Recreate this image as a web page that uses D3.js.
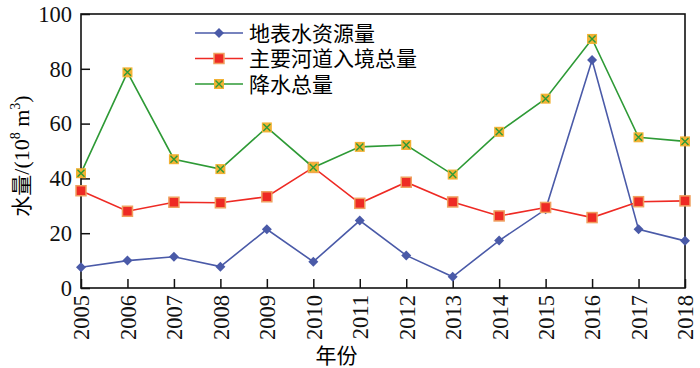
<!DOCTYPE html>
<html>
<head>
<meta charset="utf-8">
<script src="https://cdn.jsdelivr.net/npm/d3@7"></script>
<style>
  body { margin: 0; background: #fff; }
  svg { display: block; }
</style>
</head>
<body>
<div id="chart"></div>
<script>
// data
const years = [2005, 2006, 2007, 2008, 2009, 2010, 2011, 2012, 2013, 2014, 2015, 2016, 2017, 2018];
const surfaceWater = [7.6, 10.0, 11.4, 7.8, 21.4, 9.6, 24.6, 11.9, 4.1, 17.3, 28.7, 83.2, 21.4, 17.2];
const inflow = [35.5, 28.0, 31.3, 31.1, 33.3, 44.0, 30.9, 38.6, 31.4, 26.3, 29.4, 25.7, 31.5, 31.8];
const rainfall = [41.9, 78.7, 47.0, 43.4, 58.6, 44.0, 51.5, 52.2, 41.4, 57.0, 69.1, 90.9, 55.0, 53.5];
const seriesNames = ["地表水资源量", "主要河道入境总量", "降水总量"];
const yTicks = [0, 20, 40, 60, 80, 100];

const w = 700, h = 368;
const m = {left: 81, right: 15, top: 14, bottom: 80};

const svg = d3.select("#chart").append("svg")
  .attr("width", w).attr("height", h);

const x = d3.scaleLinear().domain([2005, 2018]).range([m.left, w - m.right]);
const y = d3.scaleLinear().domain([0, 100]).range([h - m.bottom, m.top]);

const serif = "'Liberation Serif', 'Times New Roman', serif";
const cjk = "'Noto Sans CJK SC', sans-serif";

// axes with inward ticks
const xAxis = svg.append("g")
  .attr("transform", `translate(0,${h - m.bottom})`)
  .call(d3.axisBottom(x).tickValues(years).tickFormat(d3.format("d")).tickSizeInner(-9).tickSizeOuter(0));
xAxis.selectAll("text")
  .attr("transform", "rotate(-90)")
  .attr("x", -7).attr("y", 0).attr("dy", "0.35em")
  .style("text-anchor", "end")
  .style("font-family", serif).style("font-size", "22.5px").attr("fill", "#111");

const yAxis = svg.append("g")
  .attr("transform", `translate(${m.left},0)`)
  .call(d3.axisLeft(y).tickValues(yTicks).tickSizeInner(-9).tickSizeOuter(0).tickPadding(9));
yAxis.selectAll("text")
  .style("font-family", serif).style("font-size", "22.5px").attr("fill", "#111");

svg.selectAll(".domain").remove();
svg.selectAll(".tick line").attr("stroke", "#111").attr("stroke-width", 1.5);

// frame
svg.append("rect")
  .attr("x", m.left).attr("y", m.top)
  .attr("width", w - m.right - m.left).attr("height", h - m.bottom - m.top)
  .attr("fill", "none").attr("stroke", "#111").attr("stroke-width", 1.6);

// titles
svg.append("text")
  .attr("x", x(2010.5)).attr("y", 363)
  .attr("text-anchor", "middle")
  .style("font-family", cjk).style("font-size", "21px")
  .text("年份");

const yt = svg.append("text")
  .attr("transform", `translate(29,${156}) rotate(-90)`)
  .attr("text-anchor", "middle")
  .style("font-size", "22px");
yt.append("tspan").style("font-family", cjk).style("font-size", "21px").text("水量");
yt.append("tspan").style("font-family", serif).text("/(10");
yt.append("tspan").style("font-family", serif).style("font-size", "14px").attr("dy", -9).text("8");
yt.append("tspan").style("font-family", serif).attr("dy", 9).text(" m");
yt.append("tspan").style("font-family", serif).style("font-size", "14px").attr("dy", -9).text("3");
yt.append("tspan").style("font-family", serif).attr("dy", 9).text(")");

// series
const series = [
  {name: seriesNames[0], values: surfaceWater, color: "#4a5aa8", marker: "diamond"},
  {name: seriesNames[1], values: inflow, color: "#ee2a24", marker: "square"},
  {name: seriesNames[2], values: rainfall, color: "#2e9a36", marker: "cross"}
];

const line = d3.line().x((d, i) => x(years[i])).y(d => y(d));

function drawMarker(g, type, color) {
  if (type === "diamond") {
    g.append("path").attr("d", "M0,-5L5,0L0,5L-5,0Z").attr("fill", color);
  } else if (type === "square") {
    g.append("rect").attr("x", -5).attr("y", -5).attr("width", 10).attr("height", 10)
      .attr("fill", color).attr("stroke", "#f0a060").attr("stroke-width", 1.5);
  } else {
    g.append("rect").attr("x", -5).attr("y", -5).attr("width", 10).attr("height", 10)
      .attr("fill", "#f2b234");
    g.append("path").attr("d", "M-3.5,-3.5L3.5,3.5M-3.5,3.5L3.5,-3.5")
      .attr("stroke", color).attr("stroke-width", 1.4);
  }
}

series.forEach(s => {
  svg.append("path").datum(s.values)
    .attr("d", line).attr("fill", "none")
    .attr("stroke", s.color).attr("stroke-width", 1.6);
  s.values.forEach((v, i) => {
    const g = svg.append("g").attr("transform", `translate(${x(years[i])},${y(v)})`);
    drawMarker(g, s.marker, s.color);
  });
});

// legend
series.forEach((s, i) => {
  const ly = 33 + i * 25.5;
  svg.append("line").attr("x1", 195).attr("x2", 243).attr("y1", ly).attr("y2", ly)
    .attr("stroke", s.color).attr("stroke-width", 1.6);
  const g = svg.append("g").attr("transform", `translate(219,${ly})`);
  drawMarker(g, s.marker, s.color);
  svg.append("text").attr("x", 249).attr("y", ly).attr("dy", "0.36em")
    .style("font-family", cjk).style("font-size", "21px")
    .text(s.name);
});
</script>
</body>
</html>
